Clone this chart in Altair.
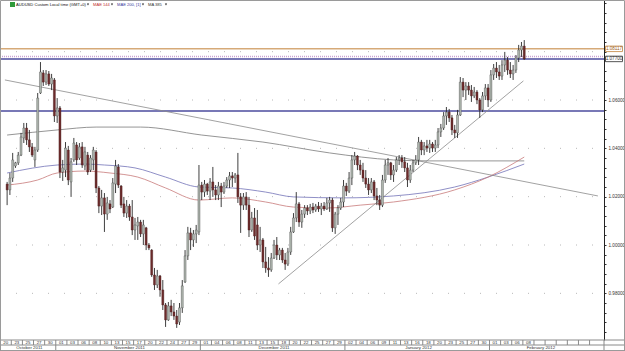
import altair as alt
import pandas as pd

# ---------------- data (12-hour bars, Sunday bars included; bar 0 = 20 Oct 2011) ----------------
first_bar = 2
opens = [
    1.0252, 1.0228, 1.0277, 1.0327, 1.0340, 1.0372, 1.0443, 1.0484, 1.0435, 1.0406,
    1.0352, 1.0393, 1.0629, 1.0712, 1.0674, 1.0708, 1.0666, 1.0683, 1.0534, 1.0567,
    1.0302, 1.0310, 1.0393, 1.0261, 1.0352, 1.0414, 1.0360, 1.0406, 1.0327, 1.0372,
    1.0310, 1.0352, 1.0385, 1.0236, 1.0161, 1.0195, 1.0128, 1.0170, 1.0157, 1.0252,
    1.0323, 1.0244, 1.0170, 1.0132, 1.0161, 1.0116, 1.0062, 1.0079, 1.0095, 1.0046,
    1.0071, 1.0000, 0.9979, 0.9876, 0.9835, 0.9872, 0.9814, 0.9752, 0.9690, 0.9748,
    0.9723, 0.9706, 0.9681, 0.9740, 0.9847, 0.9955, 1.0050, 1.0021, 1.0046, 1.0054,
    1.0248, 1.0219, 1.0252, 1.0223, 1.0261, 1.0228, 1.0207, 1.0244, 1.0219, 1.0244,
    1.0269, 1.0286, 1.0277, 1.0290, 1.0199, 1.0165, 1.0199, 1.0165, 1.0062, 1.0112,
    1.0083, 1.0000, 1.0021, 0.9930, 0.9905, 0.9897, 0.9946, 1.0000, 0.9959, 0.9979,
    0.9938, 0.9921, 0.9971, 1.0054, 1.0112, 1.0170, 1.0095, 1.0128, 1.0153, 1.0141,
    1.0157, 1.0145, 1.0161, 1.0149, 1.0161, 1.0149, 1.0174, 1.0186, 1.0071, 1.0128,
    1.0153, 1.0178, 1.0244, 1.0223, 1.0277, 1.0352, 1.0368, 1.0331, 1.0310, 1.0277,
    1.0252, 1.0228, 1.0261, 1.0203, 1.0186, 1.0165, 1.0269, 1.0331, 1.0340, 1.0290,
    1.0310, 1.0352, 1.0360, 1.0344, 1.0319, 1.0269, 1.0310, 1.0340, 1.0352, 1.0426,
    1.0393, 1.0410, 1.0401, 1.0418, 1.0401, 1.0414, 1.0468, 1.0484, 1.0534, 1.0550,
    1.0526, 1.0476, 1.0464, 1.0538, 1.0674, 1.0641, 1.0658, 1.0641, 1.0617, 1.0633,
    1.0600, 1.0559, 1.0617, 1.0650, 1.0600, 1.0704, 1.0732, 1.0716, 1.0699, 1.0745,
    1.0765, 1.0724, 1.0708, 1.0724, 1.0774, 1.0807, 1.0823,
]
highs = [
    1.0261, 1.0298, 1.0381, 1.0344, 1.0385, 1.0464, 1.0505, 1.0505, 1.0476, 1.0422,
    1.0406, 1.0629, 1.0757, 1.0724, 1.0724, 1.0720, 1.0708, 1.0691, 1.0608, 1.0575,
    1.0352, 1.0426, 1.0410, 1.0360, 1.0443, 1.0426, 1.0422, 1.0426, 1.0406, 1.0385,
    1.0372, 1.0406, 1.0393, 1.0244, 1.0228, 1.0215, 1.0199, 1.0186, 1.0277, 1.0352,
    1.0335, 1.0248, 1.0199, 1.0186, 1.0170, 1.0186, 1.0112, 1.0116, 1.0104, 1.0104,
    1.0075, 1.0008, 0.9983, 0.9905, 0.9897, 0.9876, 0.9855, 0.9760, 0.9764, 0.9773,
    0.9760, 0.9731, 0.9760, 0.9855, 0.9979, 1.0075, 1.0071, 1.0062, 1.0083, 1.0331,
    1.0261, 1.0269, 1.0257, 1.0277, 1.0323, 1.0248, 1.0261, 1.0257, 1.0261, 1.0281,
    1.0302, 1.0302, 1.0298, 1.0381, 1.0215, 1.0215, 1.0219, 1.0199, 1.0137, 1.0153,
    1.0145, 1.0075, 1.0029, 0.9992, 0.9950, 0.9967, 1.0021, 1.0033, 0.9988, 0.9988,
    0.9967, 0.9988, 1.0075, 1.0132, 1.0219, 1.0178, 1.0145, 1.0165, 1.0165, 1.0170,
    1.0174, 1.0170, 1.0178, 1.0174, 1.0178, 1.0195, 1.0199, 1.0195, 1.0137, 1.0165,
    1.0195, 1.0269, 1.0257, 1.0302, 1.0372, 1.0385, 1.0372, 1.0352, 1.0340, 1.0310,
    1.0277, 1.0277, 1.0269, 1.0236, 1.0207, 1.0290, 1.0352, 1.0360, 1.0344, 1.0331,
    1.0364, 1.0372, 1.0372, 1.0364, 1.0340, 1.0331, 1.0352, 1.0372, 1.0447, 1.0435,
    1.0426, 1.0435, 1.0435, 1.0426, 1.0435, 1.0484, 1.0501, 1.0550, 1.0571, 1.0563,
    1.0538, 1.0497, 1.0559, 1.0695, 1.0691, 1.0674, 1.0674, 1.0662, 1.0654, 1.0641,
    1.0608, 1.0633, 1.0666, 1.0666, 1.0724, 1.0749, 1.0757, 1.0745, 1.0765, 1.0799,
    1.0778, 1.0757, 1.0745, 1.0786, 1.0828, 1.0840, 1.0848,
]
lows = [
    1.0165, 1.0207, 1.0261, 1.0319, 1.0331, 1.0368, 1.0422, 1.0414, 1.0385, 1.0364,
    1.0323, 1.0385, 1.0625, 1.0658, 1.0662, 1.0658, 1.0641, 1.0509, 1.0505, 1.0277,
    1.0265, 1.0281, 1.0248, 1.0199, 1.0344, 1.0331, 1.0352, 1.0319, 1.0310, 1.0290,
    1.0302, 1.0310, 1.0215, 1.0132, 1.0124, 1.0054, 1.0104, 1.0132, 1.0153, 1.0215,
    1.0236, 1.0153, 1.0116, 1.0112, 1.0100, 1.0041, 1.0021, 1.0021, 1.0033, 1.0000,
    0.9979, 0.9979, 0.9868, 0.9814, 0.9822, 0.9786, 0.9731, 0.9661, 0.9686, 0.9706,
    0.9690, 0.9657, 0.9669, 0.9719, 0.9843, 0.9938, 0.9979, 0.9992, 1.0008, 1.0041,
    1.0186, 1.0199, 1.0207, 1.0186, 1.0199, 1.0186, 1.0186, 1.0157, 1.0211, 1.0236,
    1.0236, 1.0240, 1.0257, 1.0174, 1.0050, 1.0145, 1.0145, 1.0033, 1.0054, 1.0021,
    0.9979, 0.9971, 0.9905, 0.9885, 0.9868, 0.9889, 0.9942, 0.9938, 0.9938, 0.9926,
    0.9897, 0.9913, 0.9959, 1.0050, 1.0095, 1.0075, 1.0071, 1.0112, 1.0124, 1.0128,
    1.0132, 1.0137, 1.0137, 1.0124, 1.0141, 1.0145, 1.0137, 1.0054, 1.0046, 1.0083,
    1.0145, 1.0157, 1.0203, 1.0215, 1.0248, 1.0331, 1.0310, 1.0290, 1.0261, 1.0236,
    1.0207, 1.0215, 1.0186, 1.0165, 1.0145, 1.0157, 1.0257, 1.0290, 1.0269, 1.0261,
    1.0302, 1.0331, 1.0319, 1.0302, 1.0240, 1.0257, 1.0302, 1.0331, 1.0331, 1.0372,
    1.0372, 1.0385, 1.0381, 1.0385, 1.0385, 1.0401, 1.0447, 1.0476, 1.0497, 1.0509,
    1.0455, 1.0443, 1.0443, 1.0534, 1.0612, 1.0600, 1.0621, 1.0592, 1.0608, 1.0583,
    1.0526, 1.0550, 1.0600, 1.0571, 1.0592, 1.0683, 1.0691, 1.0683, 1.0683, 1.0716,
    1.0704, 1.0691, 1.0683, 1.0712, 1.0757, 1.0778, 1.0766,
]
closes = [
    1.0228, 1.0277, 1.0352, 1.0340, 1.0372, 1.0447, 1.0484, 1.0435, 1.0406, 1.0372,
    1.0393, 1.0608, 1.0716, 1.0674, 1.0708, 1.0666, 1.0691, 1.0534, 1.0567, 1.0302,
    1.0319, 1.0401, 1.0269, 1.0344, 1.0422, 1.0352, 1.0406, 1.0331, 1.0385, 1.0302,
    1.0360, 1.0393, 1.0236, 1.0161, 1.0195, 1.0128, 1.0174, 1.0149, 1.0257, 1.0327,
    1.0248, 1.0165, 1.0132, 1.0161, 1.0116, 1.0062, 1.0083, 1.0095, 1.0046, 1.0083,
    1.0000, 0.9988, 0.9876, 0.9835, 0.9872, 0.9814, 0.9752, 0.9690, 0.9748, 0.9723,
    0.9706, 0.9673, 0.9740, 0.9831, 0.9955, 1.0050, 1.0021, 1.0046, 1.0062, 1.0248,
    1.0219, 1.0252, 1.0223, 1.0261, 1.0228, 1.0207, 1.0244, 1.0219, 1.0244, 1.0269,
    1.0286, 1.0277, 1.0290, 1.0199, 1.0165, 1.0199, 1.0165, 1.0062, 1.0112, 1.0037,
    1.0000, 1.0021, 0.9930, 0.9905, 0.9897, 0.9946, 1.0000, 0.9959, 0.9979, 0.9938,
    0.9921, 0.9971, 1.0054, 1.0112, 1.0170, 1.0095, 1.0128, 1.0153, 1.0141, 1.0157,
    1.0145, 1.0161, 1.0149, 1.0161, 1.0149, 1.0174, 1.0186, 1.0071, 1.0128, 1.0153,
    1.0178, 1.0244, 1.0223, 1.0277, 1.0352, 1.0368, 1.0331, 1.0310, 1.0277, 1.0252,
    1.0228, 1.0261, 1.0203, 1.0186, 1.0165, 1.0269, 1.0331, 1.0340, 1.0290, 1.0310,
    1.0352, 1.0360, 1.0344, 1.0319, 1.0269, 1.0310, 1.0340, 1.0352, 1.0426, 1.0393,
    1.0410, 1.0401, 1.0418, 1.0401, 1.0414, 1.0468, 1.0484, 1.0534, 1.0550, 1.0526,
    1.0476, 1.0464, 1.0538, 1.0674, 1.0641, 1.0658, 1.0641, 1.0617, 1.0633, 1.0600,
    1.0559, 1.0617, 1.0650, 1.0600, 1.0704, 1.0732, 1.0716, 1.0699, 1.0745, 1.0765,
    1.0724, 1.0708, 1.0724, 1.0774, 1.0807, 1.0823, 1.0770,
]

# moving averages at a few bars
ma385_bar = [2, 20, 34, 50, 72, 94, 118, 141, 154, 188]
ma385_val = [1.0455, 1.0476, 1.0488, 1.0488, 1.0455, 1.0426, 1.0381, 1.0352, 1.0348, 1.0348]
mae200_bar = [2, 20, 30, 37, 48, 59, 71, 83, 95, 105, 123, 141, 163, 175, 188]
mae200_val = [1.0298, 1.0331, 1.0335, 1.0331, 1.0319, 1.0281, 1.0240, 1.0236, 1.0219, 1.0199,
              1.0195, 1.0203, 1.0240, 1.0281, 1.0335]
mae144_bar = [2, 13, 20, 30, 39, 49, 59, 71, 83, 95, 105, 117, 129, 141, 163, 175, 188]
mae144_val = [1.0248, 1.0269, 1.0298, 1.0306, 1.0298, 1.0281, 1.0236, 1.0186, 1.0195, 1.0178,
              1.0157, 1.0153, 1.0165, 1.0178, 1.0228, 1.0281, 1.0364]

# trend lines (start bar, start price, end bar, end price)
trend_b1 = [1.2, 99.6]
trend_p1 = [1.0683, 0.9839]
trend_b2 = [214.5, 187.7]
trend_p2 = [1.0203, 1.0679]

# horizontal levels
tan_level = [1.08117]
dotted_level = [1.0780]
blue_levels = [1.0770, 1.0555]
grid_levels = [0.98, 1.00, 1.02, 1.04, 1.06, 1.08]
box_tan_price = [1.08117]
box_tan_text = ["1.08117"]
box_gray_price = [1.0770]
box_gray_text = ["1.07700"]

# header texts
hdr_text = ["AUDUSD Custom Local time (GMT+0)", "MAE 144", "MAE 200, [1]", "MA 385"]
hdr_color = ["#111111", "#c03030", "#3a3a9a", "#333333"]

# time axis labels (one cell = two trading days = four bars)
day_labels = ["20", "23", "25", "27", "30",
              "01", "03", "06", "08", "10", "13", "15", "17", "20", "22", "24", "27", "29",
              "01", "04", "06", "08", "11", "13", "15", "18", "20", "22", "25", "27", "29",
              "02", "04", "06", "09", "11", "13", "16", "18", "20", "23", "25", "27", "30",
              "01", "03", "06", "08"]
n_cells = 54
month_names = ["October 2011", "November 2011", "December 2011", "January 2012", "February 2012"]
month_start = [0, 20, 72, 124, 176]
month_end = [20, 72, 124, 176, 212]

# ---------------- frames ----------------
n = len(opens)
bars = pd.DataFrame({
    "bar": list(range(first_bar, first_bar + n)),
    "open": opens, "high": highs, "low": lows, "close": closes,
})
up = bars[bars["close"] >= bars["open"]]
down = bars[bars["close"] < bars["open"]]

trend = pd.DataFrame({"b1": trend_b1, "p1": trend_p1, "b2": trend_b2, "p2": trend_p2})
days = pd.DataFrame({"c": [4 * m + 1.5 for m in range(len(day_labels))], "t": day_labels})
cells = pd.DataFrame({"b": [4 * m - 0.5 for m in range(n_cells)]})
months = pd.DataFrame({"name": month_names,
                       "mid": [(a + b) / 2 for a, b in zip(month_start, month_end)],
                       "edge": [a - 0.5 for a in month_start]})
one = pd.DataFrame({"a": [0]})

W, H = 604, 340
FONT = "Liberation Sans"
xs = alt.Scale(domain=[1.238, 214.89], nice=False, zero=False)
ys = alt.Scale(domain=[0.960691, 1.101379], nice=False, zero=False)
tick_vals = [round(0.964 + 0.004 * k, 3) for k in range(35)]
yaxis = alt.Axis(
    orient="right", values=tick_vals, title=None, grid=False,
    labelExpr="(round(datum.value*1000) % 20 == 0 && datum.value < 1.07) ? format(datum.value, '.5f') : ''",
    labelFontSize=4.6, labelFont=FONT, labelColor="#333", labelPadding=2,
    labelOverlap=False, tickSize=2, tickColor="#333", domainColor="#222", domainWidth=1,
)


def X(f):
    return alt.X(f, type="quantitative", scale=xs, axis=None)


def Y(f):
    return alt.Y(f, type="quantitative", scale=ys, axis=yaxis)


def hline(values, color, width=1.5, dash=None):
    kw = dict(color=color, strokeWidth=width)
    if dash:
        kw["strokeDash"] = dash
    return alt.Chart(pd.DataFrame({"p": values})).mark_rule(**kw).encode(
        x=alt.value(0), x2=alt.value(W), y=Y("p"))


def ma_line(bx, vals, color):
    return alt.Chart(pd.DataFrame({"bar": bx, "v": vals})).mark_line(
        interpolate="monotone", strokeWidth=0.8, color=color).encode(x=X("bar"), y=Y("v"))


grid_l = hline(grid_levels, "#b8b8b8", 1, [1, 15])
tan_l = hline(tan_level, "#d6aa78", 1.5)
dot_l = hline(dotted_level, "#c9a2d2", 1.5, [1, 1])
blue_l = hline(blue_levels, "#4b4b9e", 1.5)

ma385_l = ma_line(ma385_bar, ma385_val, "#7a7a7a")
mae200_l = ma_line(mae200_bar, mae200_val, "#7272b8")
mae144_l = ma_line(mae144_bar, mae144_val, "#c87a7a")

trend_l = alt.Chart(trend).mark_rule(color="#8a8a8a", strokeWidth=0.8).encode(
    x=X("b1"), y=Y("p1"), x2="b2", y2="p2")

wick_l = alt.Chart(bars).mark_rule(color="#2a2a2a", strokeWidth=0.9).encode(
    x=X("bar"), y=Y("low"), y2="high")
up_l = alt.Chart(up).mark_bar(size=2, color="#b0b8b0", stroke="#4a4a4a", strokeWidth=0.4).encode(
    x=X("bar"), y=Y("open"), y2="close")
down_l = alt.Chart(down).mark_bar(size=2, color="#6e2c2c", stroke="#4a1a1a", strokeWidth=0.4).encode(
    x=X("bar"), y=Y("open"), y2="close")

box_shape = "M-1,-0.3235H1V0.3235H-1Z"


def label_box(prices, texts, stroke, tcolor):
    df = pd.DataFrame({"p": prices, "t": texts})
    b = alt.Chart(df).mark_point(shape=box_shape, size=289, filled=True, opacity=1,
                                 fill="white", stroke=stroke, strokeWidth=1).encode(
        x=alt.value(614), y=Y("p"))
    t = alt.Chart(df).mark_text(fontSize=4.6, font=FONT, align="center", baseline="middle",
                                color=tcolor).encode(x=alt.value(614), y=Y("p"), text="t:N")
    return b + t


box_tan = label_box(box_tan_price, box_tan_text, "#cf9c62", "#9a5a1a")
box_gray = label_box(box_gray_price, box_gray_text, "#555555", "#333333")

# header
icon_l = alt.Chart(one).mark_rect(color="#2e9a3a").encode(
    x=alt.value(10), x2=alt.value(15), y=alt.value(2), y2=alt.value(7))
hdr_x = [16, 93, 117, 148]
hdr_layers = []
for t, c, xp in zip(hdr_text, hdr_color, hdr_x):
    hdr_layers.append(alt.Chart(pd.DataFrame({"t": [t]})).mark_text(
        fontSize=4.1, font=FONT, align="left", baseline="middle", color=c).encode(
        x=alt.value(xp), y=alt.value(4.5), text="t:N"))
tri_x = [88, 112, 143, 166]
for xp in tri_x:
    hdr_layers.append(alt.Chart(one).mark_point(shape="triangle-down", size=5, filled=True,
                                                color="#222222", opacity=1).encode(
        x=alt.value(xp), y=alt.value(4.5)))

# time axis box
hline_l = alt.Chart(pd.DataFrame({"y": [340, 345, 350.5]})).mark_rule(color="#8a8a8a", strokeWidth=1).encode(
    x=alt.value(0), x2=alt.value(625), y=alt.Y("y:Q", scale=None, axis=None))
cell_l = alt.Chart(cells).mark_rule(color="#8a8a8a", strokeWidth=1).encode(
    x=X("b"), y=alt.value(340), y2=alt.value(345))
month_edge_l = alt.Chart(months).mark_rule(color="#8a8a8a", strokeWidth=1).encode(
    x=X("edge"), y=alt.value(345), y2=alt.value(351))
day_l = alt.Chart(days).mark_text(fontSize=4.4, font=FONT, color="#333", align="center", baseline="middle").encode(
    x=X("c"), y=alt.value(342.7), text="t:N")
month_l = alt.Chart(months).mark_text(fontSize=4.4, font=FONT, color="#333", align="center", baseline="middle").encode(
    x=X("mid"), y=alt.value(347.9), text="name:N")
corner_l = alt.Chart(one).mark_rule(color="#8a8a8a", strokeWidth=1).encode(
    x=alt.value(604), y=alt.value(340), y2=alt.value(351))
frame_l = alt.Chart(one).mark_rect(fill=None, stroke="#9a9a9a", strokeWidth=1).encode(
    x=alt.value(0.5), x2=alt.value(624.5), y=alt.value(0.5), y2=alt.value(350.5))

chart = alt.layer(
    grid_l, tan_l, dot_l, blue_l, ma385_l, mae200_l, mae144_l, trend_l,
    wick_l, up_l, down_l, box_tan, box_gray,
    icon_l, *hdr_layers, hline_l, cell_l, month_edge_l, day_l, month_l, corner_l, frame_l,
).properties(
    width=W, height=H,
    autosize=alt.AutoSizeParams(type="none"),
    padding={"left": 0, "top": 0, "right": 21, "bottom": 11},
    background="white",
).configure_view(strokeWidth=0)

chart.save("out.html", embed_options={"renderer": "svg", "actions": False})
